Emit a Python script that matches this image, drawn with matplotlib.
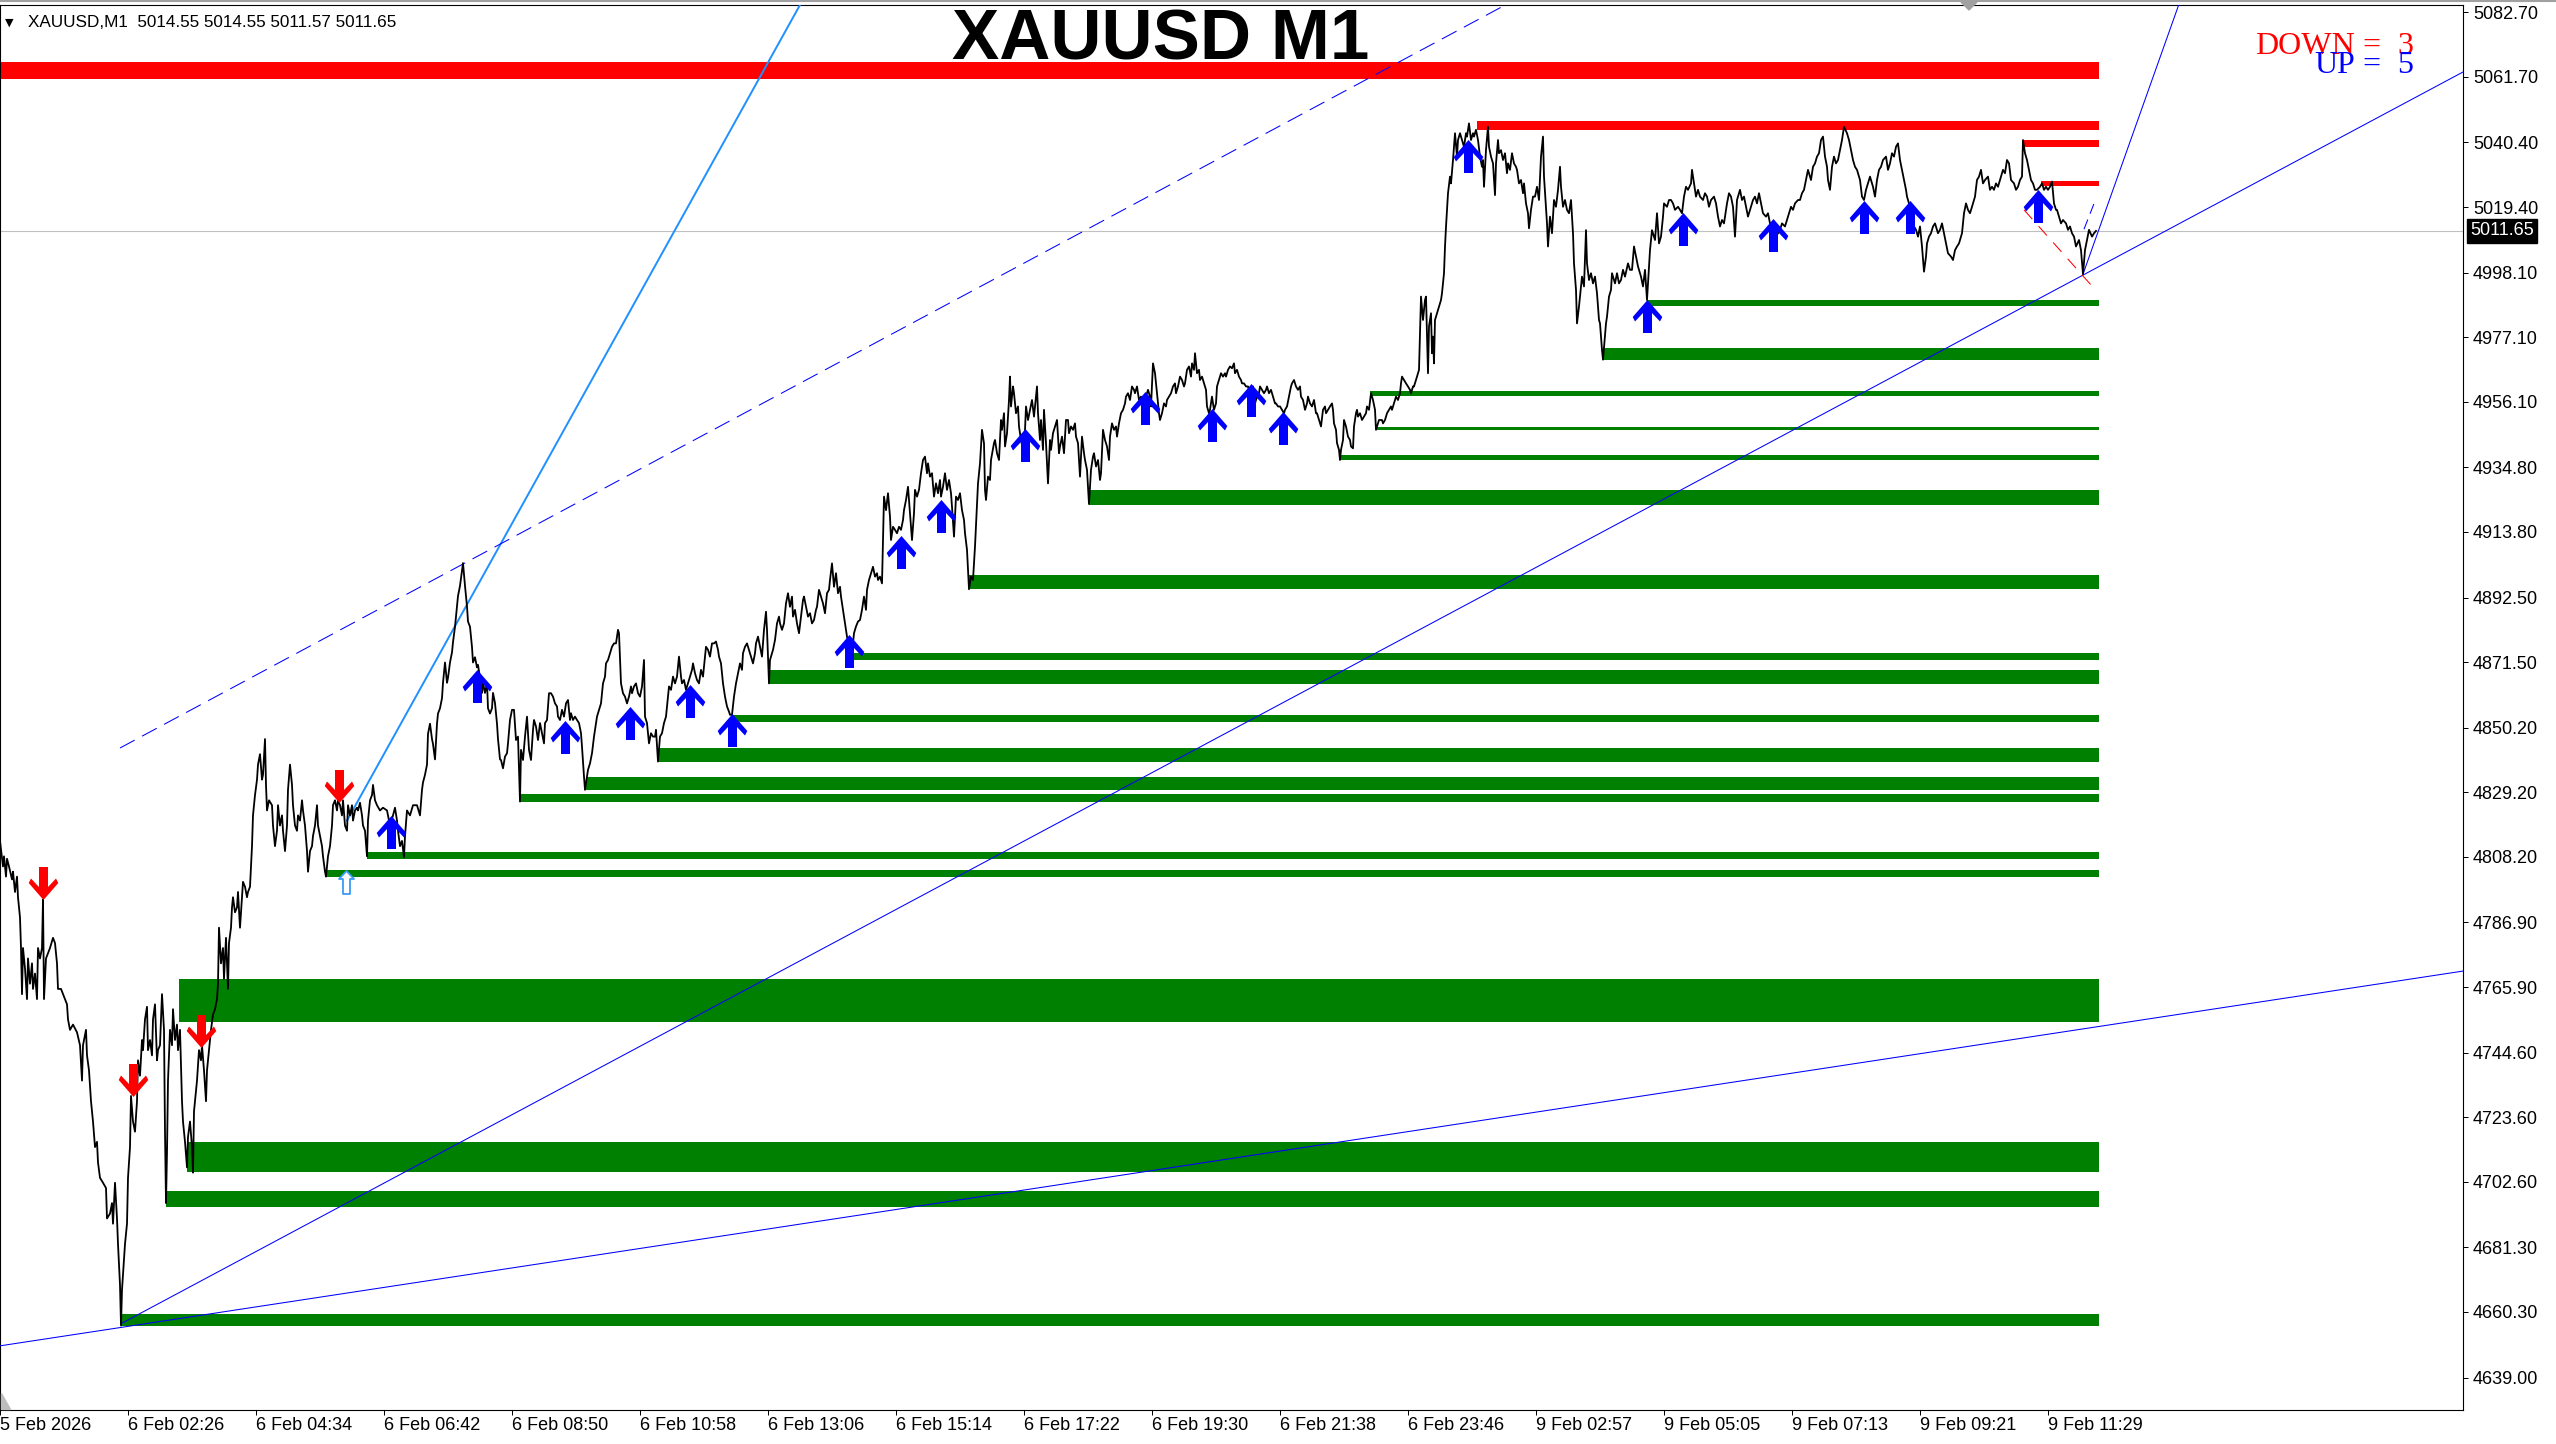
import numpy as np
import matplotlib
matplotlib.use("Agg")
from matplotlib import pyplot as plt
from matplotlib.path import Path
from matplotlib.patches import Polygon
from matplotlib.lines import Line2D
import matplotlib.transforms as mtrans

plt.rcParams['font.family'] = ['Liberation Sans', 'DejaVu Sans']

W, H, DPI = 2556, 1444, 100
PANE_R, PANE_T, PANE_B = 2463, 5, 1410   # pixel edges of the price pane

# ---- M1 closes (bar index, price) ----
close_bar = [
	0, 3, 4, 6, 7, 9, 12, 13, 15, 17, 18, 20, 21, 22, 23, 25, 27, 28, 30, 32, 33, 35, 37, 38, 40, 42, 43, 44, 46, 48,
	50, 53, 55, 57, 58, 61, 63, 67, 68, 70, 73, 77, 80, 82, 83, 86, 87, 89, 91, 93, 95, 97, 98, 100, 103, 106, 107, 110, 112, 113,
	115, 117, 118, 120, 121, 122, 123, 125, 127, 128, 130, 131, 133, 135, 137, 138, 140, 142, 143, 145, 147, 148, 150, 152, 153, 155, 157, 158, 160, 162,
	164, 165, 166, 167, 168, 170, 172, 173, 175, 177, 178, 180, 182, 183, 185, 187, 188, 190, 192, 193, 194, 196, 197, 199, 201, 202, 204, 206, 207, 209,
	211, 213, 215, 217, 218, 219, 221, 223, 224, 226, 228, 229, 231, 232, 233, 235, 237, 238, 240, 242, 243, 245, 247, 248, 250, 252, 253, 255, 257, 258,
	260, 262, 263, 265, 266, 267, 269, 272, 273, 275, 277, 278, 280, 282, 283, 285, 287, 288, 290, 292, 293, 295, 297, 298, 300, 302, 303, 305, 307, 308,
	310, 312, 313, 315, 317, 318, 320, 322, 323, 325, 326, 328, 330, 332, 333, 335, 337, 338, 340, 342, 343, 345, 347, 348, 350, 352, 353, 355, 357, 358,
	360, 362, 363, 365, 367, 368, 370, 372, 373, 375, 377, 380, 383, 387, 390, 393, 395, 397, 398, 400, 402, 404, 405, 407, 410, 413, 417, 420, 422, 423,
	425, 427, 428, 430, 432, 433, 435, 437, 438, 440, 442, 443, 445, 447, 448, 450, 452, 453, 455, 457, 458, 460, 462, 463, 465, 467, 468, 470, 472, 473,
	475, 477, 478, 480, 482, 483, 485, 487, 488, 490, 492, 493, 495, 497, 498, 500,
	501, 503, 505, 507, 508, 510, 512, 514, 516, 518, 520, 521, 523, 525, 527, 529, 531, 533, 534, 536, 538, 540, 542, 544, 545, 547, 549, 551, 553, 555,
	557, 558, 560, 562, 564, 566, 568, 570, 571, 573, 575, 577, 579, 581, 582, 584, 585, 588, 590, 592, 594, 595, 597, 599, 601, 603, 605, 606, 608, 610,
	612, 614, 616, 618, 619, 621, 623, 625, 627, 629, 631, 632, 634, 636, 638, 640, 642, 644, 645, 647, 649, 651, 653, 655, 656, 658, 660, 662, 664, 666,
	668, 669, 671, 673, 675, 677, 679, 681, 682, 684, 686, 688, 690, 692, 693, 695, 697, 699, 701, 703, 705, 706, 708, 710, 712, 714, 716, 718, 719, 721,
	723, 725, 727, 729, 730, 732, 734, 736, 738, 740, 742, 743, 745, 747, 749, 751, 753, 755, 756, 758, 760, 762, 764, 766, 767, 769, 770, 773, 775, 777,
	779, 780, 782, 784, 786, 788, 790, 792, 793, 795, 797, 799, 801, 803, 804, 806, 808, 810, 812, 814, 816, 817, 819, 821, 823, 825, 827, 829, 830, 832,
	834, 836, 838, 840, 841, 843, 845, 847, 851, 853, 854, 856, 858, 860, 862, 864, 866, 867, 869, 871, 873, 875, 877, 878, 880, 882, 884, 886, 888, 890,
	891, 893, 895, 897, 899, 901, 903, 904, 906, 908, 910, 912, 914, 915, 917, 919, 921, 923, 925, 927, 928, 930, 932, 934, 936, 938, 940, 941, 943, 945,
	947, 949, 951, 952, 954, 956, 958, 960, 962, 964, 965, 967, 969, 971, 973, 975, 977, 978, 980, 982, 984,
	985, 986, 988, 990, 991, 994, 995, 997, 999, 1001, 1002, 1004, 1005, 1007, 1009, 1010, 1011, 1013, 1014, 1016, 1018, 1019, 1021, 1023, 1025, 1026, 1028, 1030, 1032, 1034,
	1035, 1037, 1038, 1040, 1041, 1043, 1044, 1046, 1048, 1050, 1051, 1053, 1055, 1057, 1059, 1060, 1062, 1064, 1066, 1068, 1069, 1071, 1073, 1075, 1076, 1078, 1080, 1082, 1084, 1085,
	1087, 1089, 1091, 1093, 1094, 1096, 1098, 1100, 1101, 1103, 1105, 1107, 1109, 1110, 1112, 1114, 1116, 1117, 1119, 1121, 1123, 1125, 1126, 1128, 1130, 1132, 1134, 1135, 1137, 1139,
	1141, 1142, 1144, 1146, 1148, 1150, 1151, 1153, 1155, 1157, 1159, 1160, 1162, 1164, 1166, 1167, 1169, 1171, 1173, 1175, 1176, 1178, 1180, 1182, 1184, 1185, 1187, 1189, 1191, 1192,
	1194, 1195, 1197, 1199, 1200, 1202, 1204, 1206, 1207, 1209, 1210, 1212, 1214, 1216, 1217, 1219, 1221, 1223, 1225, 1226, 1228, 1230, 1232, 1234, 1235, 1237, 1239, 1241, 1242, 1244,
	1246, 1248, 1250, 1251, 1253, 1255, 1257, 1259, 1260, 1262, 1264, 1266, 1267, 1269, 1271, 1273, 1275, 1276, 1278, 1280, 1282, 1284, 1285, 1287, 1289, 1291, 1292, 1294, 1296, 1298,
	1300, 1301, 1303, 1305, 1307, 1308, 1310, 1312, 1314, 1316, 1317, 1319, 1321, 1323, 1325, 1326, 1328, 1330, 1332, 1333, 1334, 1336, 1337, 1339, 1340, 1341, 1343, 1344, 1346, 1348,
	1350, 1351, 1353, 1354, 1356, 1357, 1358, 1360, 1362, 1364, 1366, 1367, 1369, 1371, 1373, 1375, 1376, 1377, 1379, 1382, 1383, 1385, 1387, 1389, 1391, 1392, 1394, 1396, 1398, 1400,
	1401, 1402, 1404, 1406, 1408, 1410, 1411, 1413, 1414, 1416, 1417, 1419, 1421, 1423, 1425, 1426, 1428, 1429, 1431, 1432, 1433, 1434, 1435, 1437, 1439, 1441, 1442, 1444, 1445, 1446,
	1447, 1448, 1450, 1451, 1453, 1455, 1457, 1458, 1460, 1462, 1464, 1466, 1467, 1469, 1471, 1473, 1474, 1476, 1478, 1480, 1482, 1483, 1484, 1486, 1488, 1489, 1491, 1493, 1495, 1496,
	1498, 1499, 1501, 1503, 1505, 1507, 1508, 1510, 1512, 1514, 1516, 1517, 1519, 1521, 1523, 1524, 1526, 1528, 1529, 1531, 1533, 1535, 1537,
	1539, 1541, 1543, 1544, 1547, 1548, 1550, 1552, 1554, 1556, 1558, 1560, 1561, 1563, 1565, 1567, 1569, 1571, 1573, 1574, 1576, 1577, 1579, 1580, 1582, 1584, 1586, 1587, 1589, 1591,
	1593, 1595, 1597, 1599, 1600, 1602, 1603, 1606, 1607, 1609, 1611, 1612, 1615, 1617, 1619, 1621, 1623, 1625, 1628, 1630, 1632, 1634, 1636, 1638, 1641, 1643, 1645, 1647, 1648, 1650,
	1652, 1655, 1657, 1659, 1661, 1663, 1664, 1667, 1669, 1671, 1673, 1675, 1678, 1680, 1682, 1684, 1686, 1688, 1691, 1692, 1694, 1696, 1698, 1700, 1703, 1705, 1707, 1709, 1711, 1714,
	1716, 1718, 1720, 1722, 1724, 1727, 1729, 1731, 1733, 1735, 1737, 1740, 1742, 1744, 1746, 1748, 1750, 1753, 1755, 1757, 1759, 1761, 1763, 1766, 1768, 1770, 1772, 1774, 1776, 1778,
	1780, 1782, 1785, 1787, 1789, 1791, 1793, 1795, 1798, 1800, 1802, 1804, 1806, 1808, 1811, 1813, 1815, 1817, 1819, 1821, 1823, 1825, 1827, 1828, 1830, 1832, 1834, 1836, 1838, 1840,
	1842, 1844, 1847, 1849, 1851, 1853, 1855, 1857, 1860, 1862, 1864, 1866, 1868, 1870, 1873, 1875, 1877, 1879, 1881, 1883, 1886, 1888, 1890, 1892, 1894, 1896, 1898, 1900, 1902, 1904,
	1906, 1907, 1909, 1911, 1913, 1914, 1916, 1918, 1920, 1922, 1924, 1926, 1927, 1929, 1931, 1933, 1935, 1938, 1940, 1942, 1944, 1946, 1948, 1951, 1953, 1955, 1957, 1959, 1962, 1964,
	1966, 1968, 1970, 1972, 1975, 1977, 1979, 1981, 1983, 1985, 1988, 1990, 1992, 1994, 1996, 1998, 2001, 2003, 2005, 2007, 2009, 2011, 2014, 2016, 2018, 2020, 2022, 2023, 2025, 2027,
	2029, 2031, 2033, 2035, 2037, 2040, 2042, 2044, 2046, 2048, 2050, 2052, 2054, 2056, 2057, 2059, 2061, 2063, 2066, 2068, 2070, 2072, 2074, 2076, 2079, 2081, 2083, 2085, 2087, 2089,
	2092, 2094, 2096]
close_price = [
	4813.4, 4805.1, 4808.4, 4801.8, 4807.6, 4805.1, 4800.9, 4803.4, 4796.8, 4801.8, 4795.1, 4788.5, 4778.6, 4763.6, 4778.6, 4771.9, 4762.0, 4775.2, 4767.0, 4773.6, 4765.3, 4770.3, 4762.0, 4778.6, 4775.2, 4778.6, 4794.3, 4762.0, 4775.2, 4776.9,
	4778.6, 4781.9, 4780.2, 4773.6, 4765.3, 4765.3, 4763.6, 4760.3, 4755.4, 4752.0, 4753.7, 4751.2, 4747.0, 4735.5, 4747.0, 4752.0, 4743.7, 4738.8, 4728.8, 4722.2, 4713.9, 4715.6, 4708.9, 4703.9, 4702.3, 4700.6, 4690.7, 4692.3, 4695.7, 4689.0,
	4702.3, 4690.7, 4682.4, 4669.1, 4655.9, 4667.5, 4672.4, 4682.4, 4689.0, 4703.9, 4713.9, 4730.5, 4722.2, 4718.9, 4728.8, 4742.1, 4737.1, 4748.7, 4745.4, 4755.4, 4759.5, 4745.4, 4748.7, 4743.7, 4755.4, 4760.3, 4742.1, 4745.4, 4747.0, 4763.6,
	4752.0, 4718.9, 4695.7, 4712.2, 4735.5, 4752.0, 4747.0, 4758.7, 4748.7, 4753.7, 4745.4, 4752.0, 4728.8, 4722.2, 4715.6, 4707.3, 4717.2, 4722.2, 4713.9, 4705.6, 4725.5, 4732.1, 4735.5, 4745.4, 4742.1, 4747.0, 4738.8, 4728.8, 4738.8, 4745.4,
	4752.0, 4757.0, 4758.7, 4762.0, 4767.0, 4785.2, 4773.6, 4778.6, 4768.6, 4781.9, 4765.3, 4780.2, 4785.2, 4791.8, 4795.1, 4790.2, 4791.8, 4796.8, 4785.2, 4795.1, 4800.1, 4798.5, 4795.1, 4796.8, 4798.5, 4811.7, 4821.7, 4828.3, 4833.3, 4838.2,
	4841.6, 4833.3, 4834.9, 4846.5, 4831.6, 4823.3, 4826.6, 4825.0, 4818.4, 4811.7, 4816.7, 4825.0, 4818.4, 4821.7, 4816.7, 4810.1, 4818.4, 4830.0, 4838.2, 4831.6, 4825.0, 4818.4, 4816.7, 4821.7, 4820.0, 4826.6, 4823.3, 4818.4, 4810.1, 4803.4,
	4810.1, 4811.7, 4815.0, 4818.4, 4825.0, 4818.4, 4815.0, 4811.7, 4808.4, 4803.4, 4801.8, 4808.4, 4811.7, 4818.4, 4825.0, 4826.6, 4823.3, 4826.6, 4825.0, 4821.7, 4826.6, 4818.4, 4816.7, 4825.0, 4821.7, 4825.0, 4820.0, 4823.3, 4824.2, 4823.3,
	4825.8, 4821.7, 4818.4, 4816.7, 4808.4, 4820.0, 4826.6, 4828.3, 4831.6, 4826.6, 4825.0, 4823.3, 4824.2, 4823.3, 4818.4, 4821.7, 4824.2, 4820.0, 4816.7, 4811.7, 4813.4, 4808.1, 4815.0, 4823.3, 4821.7, 4825.0, 4825.0, 4821.7, 4830.0, 4832.4,
	4834.9, 4838.2, 4848.2, 4851.5, 4846.5, 4844.9, 4839.9, 4851.5, 4854.8, 4856.5, 4859.8, 4864.8, 4871.4, 4864.8, 4866.4, 4871.4, 4874.7, 4878.0, 4883.0, 4889.6, 4893.0, 4896.3, 4901.3, 4903.7, 4896.3, 4889.6, 4884.7, 4883.0, 4876.4, 4871.4,
	4873.1, 4869.8, 4870.6, 4866.4, 4861.5, 4864.8, 4861.5, 4864.8, 4856.5, 4854.8, 4856.5, 4861.5, 4858.2, 4851.5, 4846.5, 4839.9,
	4839.7, 4837.0, 4840.8, 4841.9, 4845.1, 4852.7, 4856.0, 4856.0, 4846.2, 4847.3, 4826.2, 4843.0, 4839.7, 4847.3, 4853.8, 4843.0, 4839.7, 4849.5, 4852.7, 4850.6, 4846.2, 4851.7, 4848.4, 4845.1, 4851.7, 4852.7, 4861.4, 4861.4, 4860.3, 4858.1,
	4857.1, 4853.8, 4852.7, 4856.0, 4853.8, 4858.1, 4859.2, 4852.7, 4854.9, 4852.7, 4853.8, 4852.7, 4851.7, 4848.4, 4844.0, 4834.3, 4830.0, 4836.5, 4838.6, 4841.9, 4847.3, 4849.5, 4853.8, 4856.0, 4858.1, 4864.6, 4866.8, 4871.1, 4872.2, 4874.4,
	4876.5, 4877.6, 4877.6, 4882.0, 4880.9, 4864.6, 4861.4, 4860.3, 4858.1, 4860.3, 4863.6, 4861.4, 4863.6, 4864.6, 4861.4, 4860.3, 4863.6, 4872.2, 4853.8, 4851.7, 4845.1, 4848.4, 4847.3, 4847.3, 4849.5, 4839.2, 4847.3, 4848.4, 4851.7, 4853.8,
	4860.3, 4863.6, 4862.5, 4866.8, 4864.6, 4866.8, 4873.3, 4866.8, 4864.6, 4865.7, 4862.5, 4864.6, 4866.8, 4869.0, 4871.1, 4867.9, 4865.7, 4864.6, 4869.0, 4866.8, 4873.3, 4876.5, 4875.5, 4873.3, 4877.6, 4877.6, 4878.2, 4875.5, 4873.3, 4871.1,
	4864.6, 4860.3, 4857.1, 4855.4, 4854.4, 4854.4, 4860.3, 4864.6, 4867.9, 4871.1, 4869.0, 4874.4, 4876.5, 4877.6, 4875.5, 4873.3, 4871.1, 4874.4, 4877.6, 4879.8, 4876.5, 4873.3, 4882.0, 4887.9, 4882.0, 4864.6, 4872.2, 4875.5, 4878.7, 4884.1,
	4886.3, 4884.1, 4882.0, 4884.1, 4890.6, 4893.9, 4889.5, 4892.8, 4886.3, 4888.5, 4884.1, 4880.9, 4886.3, 4891.7, 4892.8, 4889.5, 4886.3, 4887.4, 4884.1, 4885.2, 4888.5, 4889.5, 4895.0, 4892.8, 4890.6, 4887.4, 4893.9, 4895.0, 4898.2, 4903.6,
	4896.0, 4900.4, 4893.9, 4896.0, 4892.8, 4888.5, 4884.1, 4879.8, 4874.2, 4877.6, 4880.9, 4883.1, 4884.7, 4885.2, 4888.5, 4892.8, 4888.5, 4895.0, 4898.2, 4900.4, 4902.5, 4899.3, 4900.4, 4898.2, 4899.3, 4897.1, 4925.3, 4920.9, 4926.4, 4918.8,
	4911.2, 4915.5, 4914.5, 4913.4, 4915.5, 4914.5, 4917.7, 4920.9, 4924.2, 4928.5, 4919.9, 4911.2, 4919.9, 4927.5, 4925.3, 4927.5, 4932.9, 4937.2, 4938.3, 4932.9, 4936.1, 4931.8, 4932.9, 4925.3, 4929.6, 4926.4, 4930.7, 4925.3, 4928.5, 4932.9,
	4927.5, 4930.7, 4926.4, 4922.0, 4912.3, 4925.3, 4924.2, 4926.4, 4920.9, 4917.7, 4913.4, 4908.0, 4895.2, 4899.3, 4898.2, 4909.1, 4923.1, 4929.6, 4936.1, 4947.0, 4942.6,
	4927.5, 4924.2, 4931.8, 4930.7, 4937.2, 4942.7, 4943.7, 4939.4, 4937.2, 4950.2, 4947.0, 4952.4, 4941.6, 4945.9, 4956.7, 4964.3, 4954.6, 4961.1, 4958.9, 4952.4, 4954.6, 4948.1, 4943.7, 4940.5, 4947.0, 4954.6, 4950.2, 4953.5, 4956.7, 4951.3,
	4954.6, 4961.1, 4952.4, 4943.7, 4950.2, 4940.5, 4953.5, 4942.7, 4929.6, 4943.7, 4940.5, 4945.9, 4948.1, 4950.2, 4939.4, 4941.6, 4944.8, 4939.4, 4950.2, 4950.2, 4945.9, 4948.1, 4947.0, 4949.1, 4944.8, 4942.7, 4931.8, 4944.8, 4939.4, 4937.2,
	4934.0, 4922.9, 4934.0, 4938.3, 4939.4, 4935.1, 4937.2, 4930.7, 4932.9, 4947.0, 4943.7, 4941.6, 4937.2, 4944.8, 4949.1, 4947.0, 4948.1, 4944.8, 4949.1, 4952.4, 4953.5, 4955.6, 4957.8, 4958.9, 4956.7, 4961.1, 4960.0, 4958.9, 4961.1, 4956.7,
	4957.8, 4954.6, 4956.7, 4957.8, 4960.0, 4957.8, 4954.6, 4968.6, 4965.4, 4958.9, 4952.4, 4950.2, 4952.4, 4955.6, 4954.6, 4956.7, 4957.8, 4958.9, 4961.1, 4962.1, 4958.9, 4961.1, 4964.3, 4963.2, 4961.1, 4962.1, 4966.5, 4967.6, 4964.3, 4968.6,
	4966.5, 4971.9, 4965.4, 4966.5, 4963.2, 4964.3, 4962.1, 4960.0, 4954.6, 4952.4, 4953.5, 4957.8, 4953.5, 4955.6, 4961.1, 4963.2, 4965.4, 4964.3, 4965.4, 4964.3, 4966.5, 4967.6, 4967.0, 4968.6, 4965.4, 4966.5, 4964.3, 4963.2, 4962.1, 4962.1,
	4961.1, 4961.1, 4958.9, 4960.0, 4961.1, 4955.6, 4957.8, 4958.9, 4961.1, 4960.0, 4958.9, 4960.0, 4961.1, 4958.9, 4960.0, 4957.8, 4955.6, 4955.6, 4954.6, 4954.6, 4953.5, 4952.4, 4953.5, 4954.6, 4957.8, 4961.1, 4962.1, 4963.2, 4961.1, 4960.0,
	4961.1, 4957.8, 4956.7, 4953.5, 4955.6, 4957.8, 4955.6, 4954.6, 4956.7, 4952.4, 4952.4, 4950.2, 4948.1, 4953.5, 4954.6, 4952.4, 4953.5, 4954.6, 4955.6, 4953.5, 4949.1, 4947.0, 4942.7, 4940.5, 4937.2, 4940.5, 4943.7, 4950.2, 4948.1, 4944.8,
	4943.7, 4941.6, 4941.0, 4948.1, 4952.4, 4953.5, 4951.3, 4952.4, 4950.2, 4951.3, 4952.4, 4954.6, 4953.5, 4958.9, 4956.7, 4953.5, 4947.0, 4948.1, 4950.2, 4950.2, 4949.1, 4950.2, 4952.4, 4953.5, 4954.6, 4953.5, 4955.6, 4957.8, 4956.7, 4958.9,
	4962.1, 4964.3, 4963.2, 4962.1, 4961.1, 4960.0, 4958.9, 4961.1, 4961.1, 4963.2, 4964.3, 4966.5, 4990.3, 4982.7, 4989.2, 4990.3, 4965.4, 4980.6, 4984.9, 4971.9, 4977.3, 4968.6, 4982.7, 4984.9, 4987.1, 4989.2, 4991.4, 4997.9, 5006.5, 5013.0,
	5018.5, 5023.9, 5029.3, 5027.1, 5034.7, 5043.4, 5035.8, 5041.2, 5043.4, 5041.2, 5039.0, 5043.4, 5042.3, 5046.6, 5041.2, 5043.4, 5042.3, 5044.5, 5041.2, 5035.8, 5032.5, 5034.7, 5026.0, 5038.0, 5045.5, 5039.0, 5035.8, 5033.6, 5023.3, 5033.6,
	5041.2, 5036.9, 5037.9, 5034.7, 5036.9, 5030.4, 5033.6, 5031.5, 5036.9, 5033.6, 5032.5, 5031.5, 5027.1, 5028.2, 5023.9, 5027.1, 5020.6, 5017.4, 5012.5, 5018.5, 5022.8, 5022.8, 5026.0,
	5021.7, 5035.8, 5042.3, 5029.3, 5014.1, 5006.6, 5016.3, 5010.9, 5021.7, 5019.5, 5025.0, 5032.5, 5026.0, 5019.5, 5021.7, 5018.5, 5017.4, 5021.7, 5010.9, 5001.1, 4992.5, 4981.6, 4987.1, 4990.3, 4996.8, 4993.6, 5011.9, 5001.1, 4995.7, 4997.9,
	4994.6, 4996.8, 4991.4, 4982.7, 4981.6, 4973.0, 4969.8, 4981.6, 4983.8, 4990.3, 4992.5, 4997.9, 4994.6, 4997.9, 4994.6, 4995.7, 4999.0, 4996.8, 5001.1, 4999.0, 4999.0, 5006.6, 5003.3, 5000.1, 4996.8, 4993.6, 4999.0, 4989.2, 4994.6, 5005.4,
	5011.9, 5008.7, 5017.4, 5007.6, 5009.8, 5016.3, 5020.6, 5019.5, 5021.7, 5021.7, 5020.6, 5018.5, 5019.5, 5018.5, 5017.4, 5022.8, 5026.0, 5025.0, 5027.1, 5031.5, 5027.1, 5022.8, 5025.0, 5022.8, 5021.7, 5023.9, 5022.8, 5019.5, 5021.7, 5022.8,
	5020.6, 5016.3, 5013.1, 5015.2, 5014.1, 5020.6, 5023.9, 5022.8, 5019.5, 5009.8, 5021.7, 5025.0, 5021.7, 5022.8, 5019.5, 5016.3, 5018.5, 5021.7, 5022.8, 5020.6, 5023.9, 5020.6, 5017.4, 5016.3, 5017.4, 5014.1, 5013.1, 5012.0, 5009.8, 5010.9,
	5012.0, 5014.1, 5013.1, 5015.2, 5017.4, 5019.5, 5018.5, 5020.6, 5021.7, 5021.7, 5023.9, 5025.0, 5028.2, 5031.5, 5028.2, 5032.5, 5033.6, 5035.8, 5036.9, 5041.2, 5042.3, 5035.8, 5032.5, 5028.2, 5025.0, 5032.5, 5035.8, 5033.6, 5034.7, 5038.0,
	5041.2, 5045.5, 5043.4, 5041.2, 5038.0, 5034.7, 5032.5, 5031.5, 5028.2, 5022.8, 5021.7, 5025.0, 5027.1, 5029.3, 5026.0, 5022.8, 5028.2, 5031.5, 5032.5, 5034.7, 5035.8, 5031.5, 5033.6, 5036.9, 5035.8, 5039.0, 5040.1, 5034.7, 5031.5, 5028.2,
	5025.0, 5022.8, 5020.6, 5017.4, 5015.2, 5013.1, 5012.0, 5009.8, 5013.1, 5006.6, 4998.4, 5003.3, 5007.6, 5009.8, 5010.9, 5013.1, 5014.1, 5010.9, 5012.0, 5014.1, 5010.9, 5007.6, 5004.4, 5003.3, 5002.2, 5005.4, 5006.6, 5007.6, 5010.9, 5017.4,
	5020.6, 5018.5, 5017.4, 5019.5, 5022.8, 5028.2, 5029.3, 5031.5, 5027.1, 5028.2, 5029.3, 5025.0, 5026.0, 5025.0, 5027.1, 5026.0, 5029.3, 5031.5, 5030.4, 5034.7, 5033.6, 5028.2, 5027.1, 5025.0, 5026.0, 5028.2, 5029.3, 5041.2, 5036.9, 5034.7,
	5031.5, 5028.2, 5027.1, 5025.0, 5025.0, 5026.0, 5027.1, 5025.0, 5026.0, 5025.0, 5026.0, 5027.7, 5020.6, 5018.5, 5018.5, 5016.3, 5014.1, 5015.2, 5014.1, 5012.0, 5013.1, 5010.9, 5009.8, 5006.6, 5008.7, 5005.4, 4997.6, 5005.4, 5008.7, 5012.0,
	5009.8, 5010.9, 5011.65]

# ---- zones: first bar, low, high (all run to zone_end) ----
zone_end = 2099
green_start = [1647, 1603, 1370, 1376, 1339, 1089, 968, 852, 769, 732, 658, 586, 520, 367, 326, 179, 187, 166, 121]
green_low = [4987.1, 4969.8, 4958.0, 4947.0, 4937.2, 4922.6, 4895.2, 4872.2, 4864.4, 4852.2, 4839.2, 4830.0, 4826.2, 4807.5, 4801.7, 4754.7, 4705.7, 4694.4, 4655.9]
green_high = [4989.2, 4973.6, 4959.7, 4948.0, 4938.9, 4927.3, 4899.8, 4874.4, 4869.0, 4854.4, 4843.5, 4834.3, 4828.7, 4809.8, 4803.8, 4768.6, 4715.6, 4699.7, 4659.6]
red_start = [0, 1477, 2023, 2041]
red_low = [5061.0, 5044.3, 5039.0, 5026.3]
red_high = [5066.5, 5047.5, 5041.2, 5028.0]

# ---- signal arrows (bar, tip price) ----
up_bar = [391, 477, 565, 630, 690, 732, 849, 901, 941, 1025, 1145, 1212, 1251, 1283, 1468, 1647, 1683, 1773, 1864, 1910, 2038]
up_tip = [4821.7, 4869.0, 4852.7, 4857.1, 4864.1, 4854.9, 4880.4, 4912.8, 4924.4, 4947.5, 4959.4, 4954.0, 4962.1, 4952.9, 5041.4,
	4989.4, 5017.6, 5015.8, 5021.4, 5021.7, 5025.2]
down_bar = [43, 133, 201, 339]
down_tip = [4794.3, 4730.5, 4746.2, 4825.8]
hollow_bar = [346]
hollow_tip = [4803.9]

# ---- trend lines (two points each) ----
base_line_x, base_line_y = [0, 2463], [4649.3, 4771.1]
rise_line_x, rise_line_y = [121, 2463], [4656.5, 5063.3]
fast_line_x, fast_line_y = [347, 800], [4820.0, 5085.1]
channel_x, channel_y = [120, 1506], [4843.6, 5085.2]
last_leg_x, last_leg_y = [2083, 2180], [4997.6, 5086.3]
red_dash_x, red_dash_y = [2024, 2094], [5018.5, 4993.0]
blue_dash_x, blue_dash_y = [2084, 2096], [5012.2, 5022.2]

last_price = 5011.65
y_ticks = [5082.70, 5061.70, 5040.40, 5019.40, 4998.10, 4977.10, 4956.10, 4934.80, 4913.80, 4892.50, 4871.50,
	4850.20, 4829.20, 4808.20, 4786.90, 4765.90, 4744.60, 4723.60, 4702.60, 4681.30, 4660.30, 4639.00]
x_tick_bar = [0, 128, 256, 384, 512, 640, 768, 896, 1024, 1152, 1280, 1408, 1536, 1664, 1792, 1920, 2048]
x_tick_labels = ['5 Feb 2026', '6 Feb 02:26', '6 Feb 04:34', '6 Feb 06:42', '6 Feb 08:50', '6 Feb 10:58',
	'6 Feb 13:06', '6 Feb 15:14', '6 Feb 17:22', '6 Feb 19:30', '6 Feb 21:38', '6 Feb 23:46',
	'9 Feb 02:57', '9 Feb 05:05', '9 Feb 07:13', '9 Feb 09:21', '9 Feb 11:29']
header = 'XAUUSD,M1  5014.55 5014.55 5011.57 5011.65'


def figPos(x, y):
	# screen pixel (origin top-left) -> figure fraction
	return x / W, 1 - y / H


def arrowPath(flip=False):
	verts = [(0, 16.5), (14.8, -0.5), (12.5, -5.0), (4.5, 3.5), (4.5, -16.5),
		(-4.5, -16.5), (-4.5, 3.5), (-12.5, -5.0), (-14.8, -0.5), (0, 16.5)]
	if flip:
		verts = [(x, -y) for x, y in verts]
	return Path(verts, [Path.MOVETO] + [Path.LINETO] * 8 + [Path.CLOSEPOLY])


def hollowPath():
	verts = [(0, 11.5), (7.5, 3.5), (3.5, 3.5), (3.5, -11.5), (-3.5, -11.5), (-3.5, 3.5), (-7.5, 3.5), (0, 11.5)]
	return Path(verts, [Path.MOVETO] + [Path.LINETO] * 6 + [Path.CLOSEPOLY])


def drawZones(ax, starts, lows, highs, colour):
	mids = [(lo + hi) / 2 for lo, hi in zip(lows, highs)]
	widths = [zone_end - s for s in starts]
	heights = [hi - lo for lo, hi in zip(lows, highs)]
	ax.barh(mids, widths, height=heights, left=starts, color=colour, linewidth=0, zorder=1)


if __name__ == "__main__":
	fig = plt.figure(figsize=(W / DPI, H / DPI), dpi=DPI)
	ax = fig.add_axes([0, (H - PANE_B) / H, PANE_R / W, (PANE_B - PANE_T) / H])

	drawZones(ax, green_start, green_low, green_high, '#008000')
	drawZones(ax, red_start, red_low, red_high, '#FF0000')

	ax.axhline(last_price, color='#C0C0C0', lw=0.8, zorder=2)

	ax.plot(base_line_x, base_line_y, color='#0000FF', lw=0.75, zorder=3)
	ax.plot(rise_line_x, rise_line_y, color='#0000FF', lw=0.75, zorder=3)
	ax.plot(last_leg_x, last_leg_y, color='#0000FF', lw=0.75, zorder=3)
	ax.plot(fast_line_x, fast_line_y, color='#1E90FF', lw=1.4, zorder=3)
	ch, = ax.plot(channel_x, channel_y, color='#0000FF', lw=0.75, zorder=3)
	ch.set_dashes((16, 8))
	rd, = ax.plot(red_dash_x, red_dash_y, color='#FF0000', lw=0.75, zorder=3)
	rd.set_dashes((12, 9))
	bd, = ax.plot(blue_dash_x, blue_dash_y, color='#0000FF', lw=0.75, zorder=3)
	bd.set_dashes((10, 6))

	ax.plot(close_bar, close_price, color='black', lw=1.3, zorder=4)

	# arrows: marker centre shifted half its height away from the tip
	half = 16.5 * 72 / DPI
	upTrans = mtrans.offset_copy(ax.transData, fig=fig, x=0, y=-half, units='points')
	dnTrans = mtrans.offset_copy(ax.transData, fig=fig, x=0, y=half, units='points')
	ax.plot(up_bar, up_tip, ls='none', marker=arrowPath(), ms=33 * 72 / DPI, color='#0000FF',
		mew=0, transform=upTrans, zorder=6)
	ax.plot(down_bar, down_tip, ls='none', marker=arrowPath(flip=True), ms=33 * 72 / DPI, color='#FF0000',
		mew=0, transform=dnTrans, zorder=6)
	hTrans = mtrans.offset_copy(ax.transData, fig=fig, x=0, y=-11.5 * 72 / DPI, units='points')
	ax.plot(hollow_bar, hollow_tip, ls='none', marker=hollowPath(), ms=23 * 72 / DPI, mfc='white',
		mec='#3D9CF5', mew=1.3, transform=hTrans, zorder=6)

	ax.set_xlim(0, PANE_R)
	ax.set_ylim(5086.7 - 0.325 * PANE_B, 5086.7 - 0.325 * PANE_T)

	ax.yaxis.tick_right()
	ax.set_yticks(y_ticks, labels=['%.2f' % v for v in y_ticks])
	ax.set_xticks(x_tick_bar, labels=x_tick_labels)
	for lbl in ax.get_xticklabels():
		lbl.set_horizontalalignment('left')
	ax.tick_params(axis='both', direction='out', length=3.6, width=0.72, labelsize=13, colors='black')
	ax.tick_params(axis='y', pad=3.5)
	ax.tick_params(axis='x', pad=1.5)
	for sp in ax.spines.values():
		sp.set_color('black')
		sp.set_linewidth(0.8)

	# last price tag on the price scale
	tag = mtrans.blended_transform_factory(ax.transAxes, ax.transData)
	ax.text(1.0028, last_price, '%.2f' % last_price, transform=tag, ha='left', va='center', fontsize=13,
		color='white', bbox=dict(boxstyle='square,pad=0.18', fc='black', ec='black'), zorder=10, clip_on=False)

	# texts
	fig.text(*figPos(1161, 59), 'XAUUSD M1', ha='center', va='baseline', fontsize=51, fontweight='bold')
	fig.text(*figPos(28, 27), header, ha='left', va='baseline', fontsize=12.3)
	fig.text(*figPos(5, 26), '\u25BC', ha='left', va='baseline', fontsize=8, family=['DejaVu Sans'])
	for word, num, colour, base in [('DOWN', '3', '#FF0000', 54), ('UP', '5', '#0000FF', 73)]:
		fig.text(*figPos(2355, base), word, ha='right', va='baseline', fontsize=23, color=colour, family=['Liberation Serif'])
		fig.text(*figPos(2371, base), '=', ha='center', va='baseline', fontsize=23, color=colour, family=['Liberation Serif'])
		fig.text(*figPos(2405, base), num, ha='center', va='baseline', fontsize=23, color=colour, family=['Liberation Serif'])

	# window chrome bits
	fig.add_artist(Line2D([0, 1], [1 - 1 / H, 1 - 1 / H], color='#A0A0A0', lw=1.5))
	fig.add_artist(Polygon([figPos(1961, 2), figPos(1977, 2), figPos(1969, 10)], closed=True, color='#A0A0A0'))
	fig.add_artist(Polygon([figPos(1, 1393), figPos(1, 1409), figPos(10, 1409)], closed=True, color='#BDBDBD'))

	fig.savefig('out.png', dpi=DPI)
	plt.close('all')
